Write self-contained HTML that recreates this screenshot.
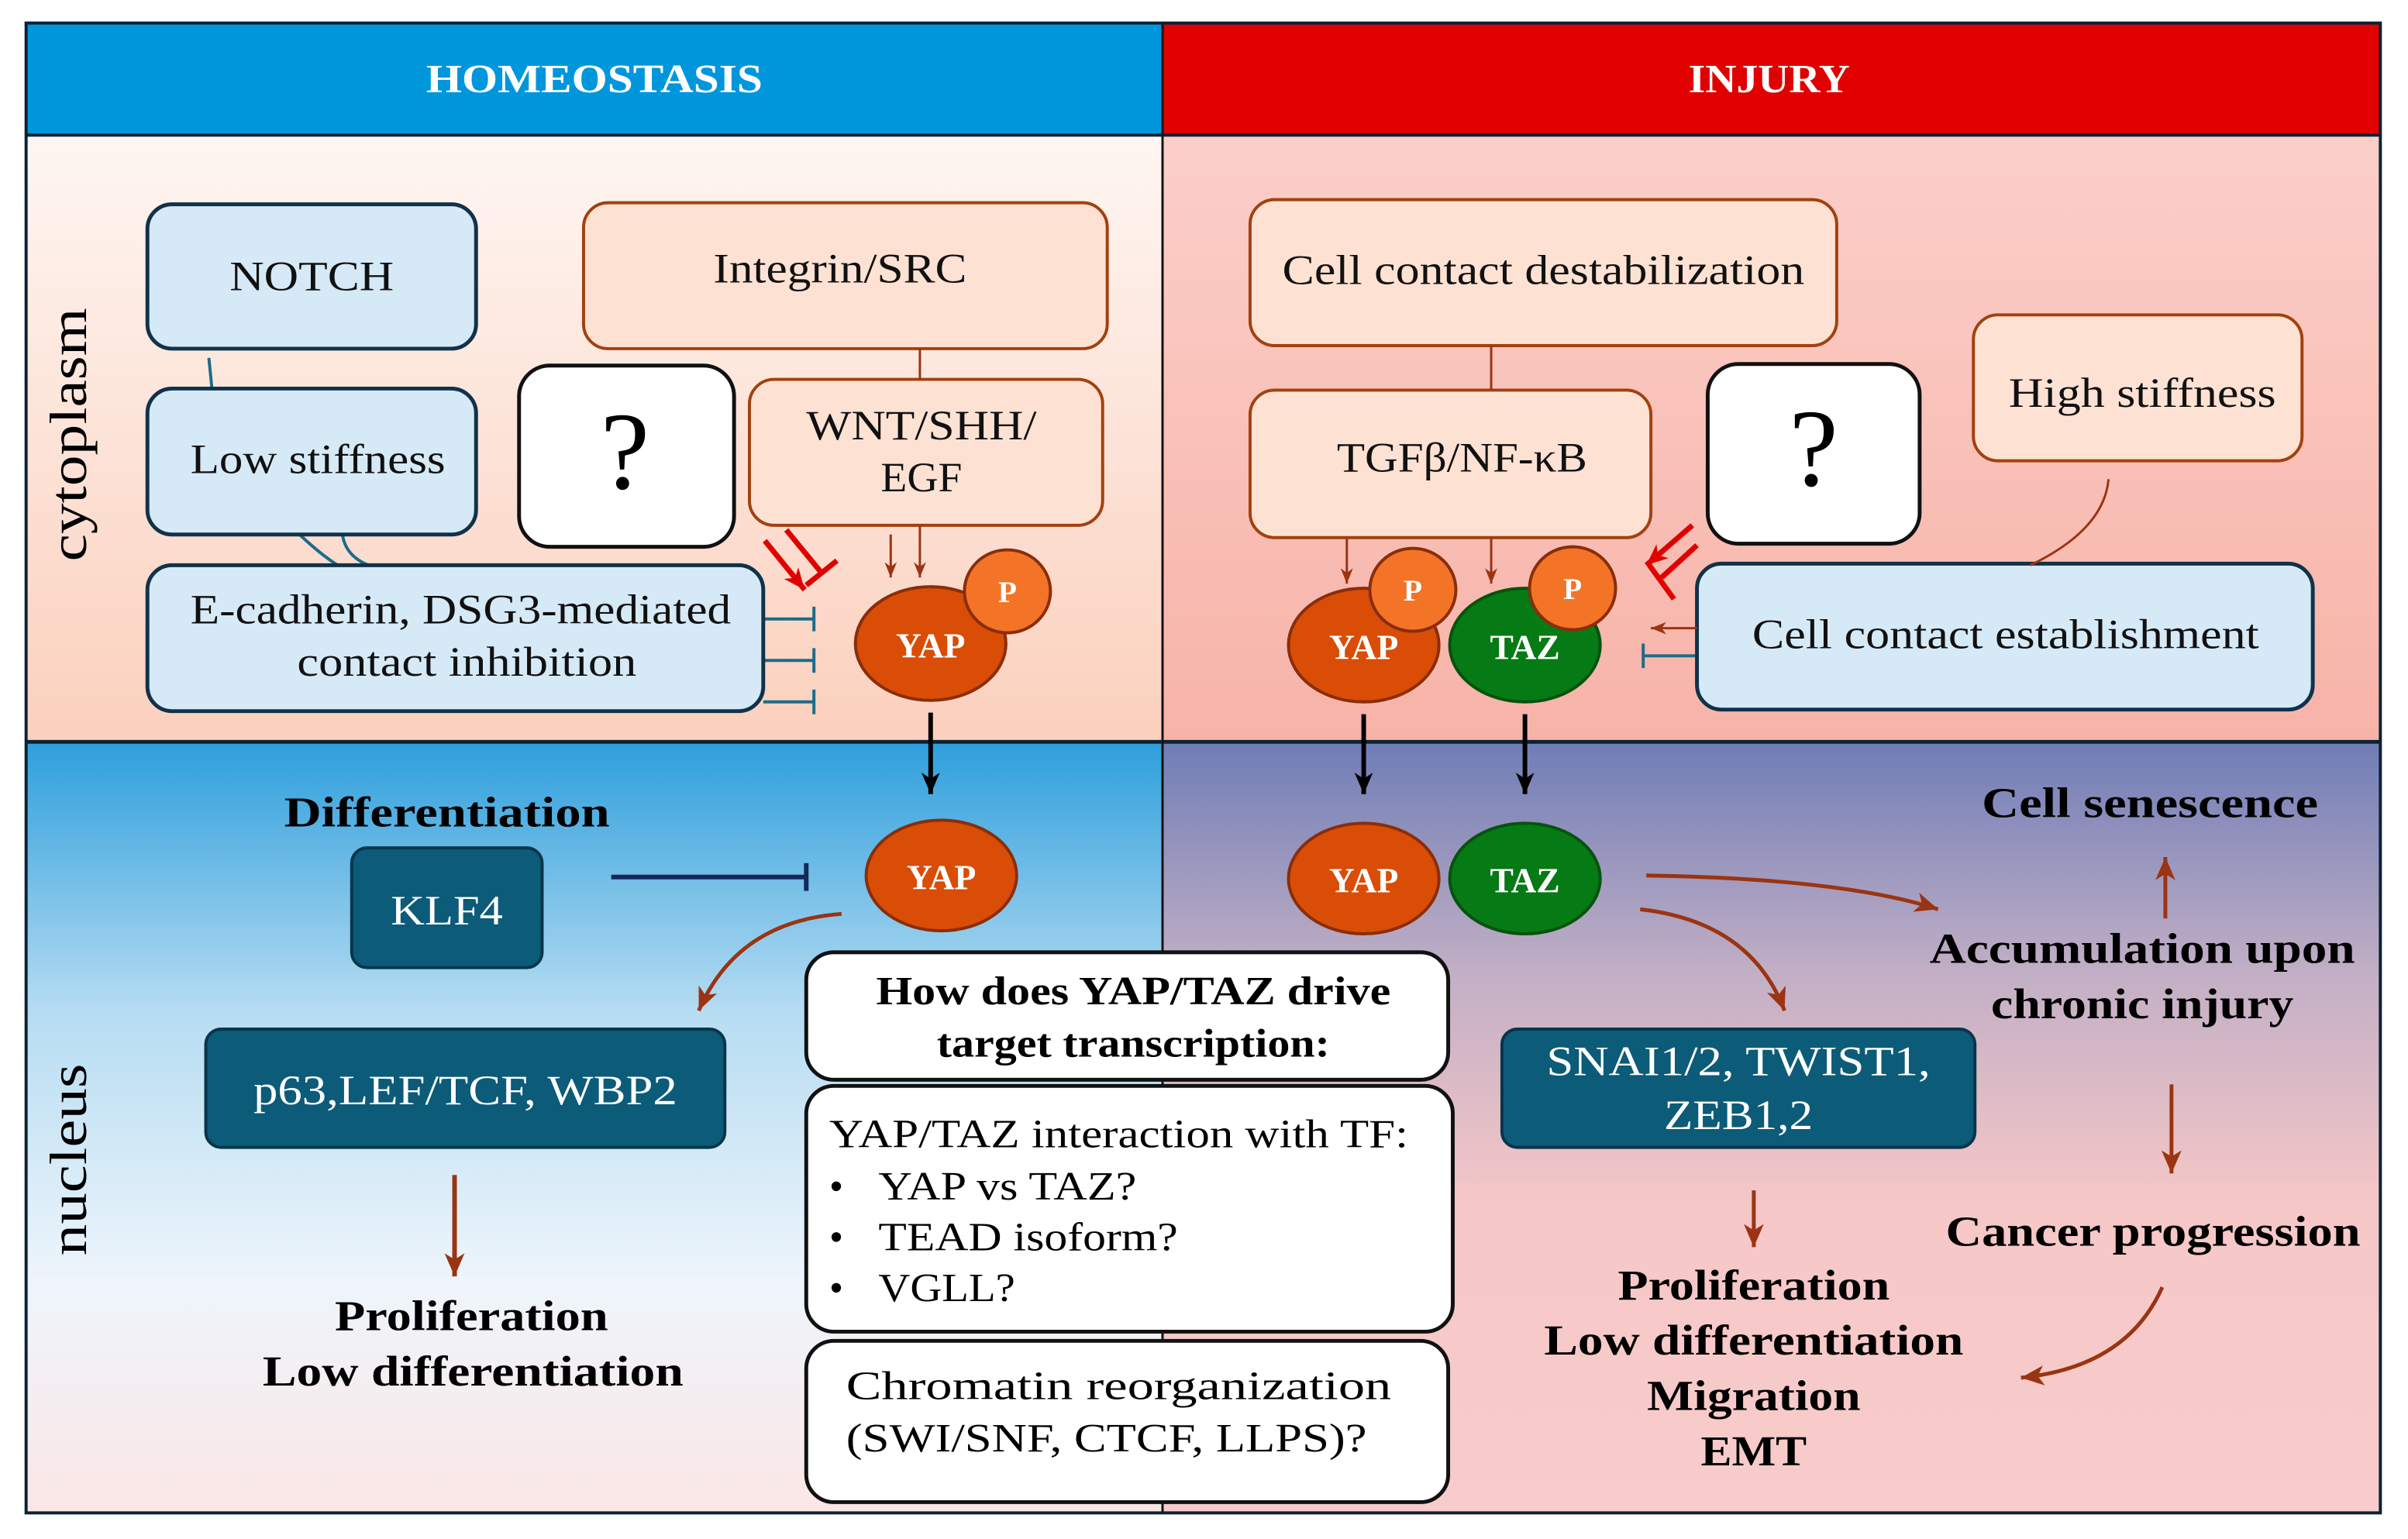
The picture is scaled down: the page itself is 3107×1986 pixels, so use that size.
<!DOCTYPE html>
<html><head><meta charset="utf-8"><style>html,body{margin:0;padding:0;background:#fff}svg{display:block}</style></head>
<body>
<svg width="3107" height="1986" viewBox="0 0 1568 1002" preserveAspectRatio="none" xmlns="http://www.w3.org/2000/svg" font-family="'Liberation Serif', serif">
<defs>
<linearGradient id="cl" x1="0" y1="0" x2="0" y2="1"><stop offset="0" stop-color="#fef6f2"/><stop offset="1" stop-color="#fbd0bd"/></linearGradient>
<linearGradient id="cr" x1="0" y1="0" x2="0" y2="1"><stop offset="0" stop-color="#fbcfc9"/><stop offset="1" stop-color="#f7b3a8"/></linearGradient>
<linearGradient id="nl" x1="0" y1="0" x2="0" y2="1"><stop offset="0" stop-color="#2e9fdc"/><stop offset="0.35" stop-color="#b6dcf2"/><stop offset="0.7" stop-color="#eef5fb"/><stop offset="1" stop-color="#fbe6e6"/></linearGradient>
<linearGradient id="nr" x1="0" y1="0" x2="0" y2="1"><stop offset="0" stop-color="#6f7db6"/><stop offset="0.3" stop-color="#c2afc5"/><stop offset="0.6" stop-color="#f6c7c7"/><stop offset="1" stop-color="#f8cccc"/></linearGradient>
<marker id="ab" markerWidth="10" markerHeight="8" refX="10" refY="4" orient="auto" markerUnits="userSpaceOnUse" viewBox="0 0 10 8"><path d="M0,0 L10,4 L0,8 L3,4z" fill="#9a3412"/></marker>
<marker id="ak" markerWidth="14" markerHeight="12" refX="14" refY="6" orient="auto" markerUnits="userSpaceOnUse" viewBox="0 0 14 12"><path d="M0,0 L14,6 L0,12 L4,6z" fill="#000"/></marker>
<marker id="ab2" markerWidth="15" markerHeight="13" refX="15" refY="6.5" orient="auto" markerUnits="userSpaceOnUse" viewBox="0 0 15 13"><path d="M0,0 L15,6.5 L0,13 L4,6.5z" fill="#9a3412"/></marker>
<marker id="ar" markerWidth="14" markerHeight="12" refX="14" refY="6" orient="auto" markerUnits="userSpaceOnUse" viewBox="0 0 14 12"><path d="M0,0 L14,6 L0,12 L4,6z" fill="#e00000"/></marker>
</defs>
<rect x="17" y="88" width="740" height="395" fill="url(#cl)"/>
<rect x="757" y="88" width="793" height="395" fill="url(#cr)"/>
<rect x="17" y="483" width="740" height="502" fill="url(#nl)"/>
<rect x="757" y="483" width="793" height="502" fill="url(#nr)"/>
<rect x="17" y="15" width="740" height="73" fill="#0096dc"/>
<rect x="757" y="15" width="793" height="73" fill="#e00000"/>
<g lengthAdjust="spacingAndGlyphs">
<text x="387" y="60" text-anchor="middle" font-size="26" font-weight="bold" fill="#fff" textLength="219" lengthAdjust="spacingAndGlyphs">HOMEOSTASIS</text>
<text x="1152" y="60" text-anchor="middle" font-size="26" font-weight="bold" fill="#fff" textLength="105" lengthAdjust="spacingAndGlyphs">INJURY</text>
</g>
<line x1="17" y1="88" x2="1550" y2="88" stroke="#0b2233" stroke-width="2"/>
<line x1="17" y1="483" x2="1550" y2="483" stroke="#0b2233" stroke-width="2.5"/>
<line x1="757" y1="15" x2="757" y2="985" stroke="#111" stroke-width="1.5"/>
<rect x="17" y="15" width="1533" height="970" fill="none" stroke="#0b2233" stroke-width="2"/>
<text transform="translate(56,283) rotate(-90)" text-anchor="middle" font-size="34" textLength="165" lengthAdjust="spacingAndGlyphs">cytoplasm</text>
<text transform="translate(56,755) rotate(-90)" text-anchor="middle" font-size="34" textLength="125" lengthAdjust="spacingAndGlyphs">nucleus</text>

<g stroke="#1b6c8a" stroke-width="2" fill="none">
<path d="M136,233 L138,253"/><path d="M195,348 Q210,362 220,368"/><path d="M223,348 Q225,362 240,368"/>
<path d="M497,403 L530,403 M530,395 V411"/><path d="M497,430 L530,430 M530,422 V438"/><path d="M497,457 L530,457 M530,449 V465"/>
<path d="M1105,427 L1070,427 M1070,419 V435"/>
</g>
<g stroke="#10324a" stroke-width="2.5" fill="#d6e9f7">
<rect x="96" y="133" width="214" height="94" rx="16"/>
<rect x="96" y="253" width="214" height="95" rx="16"/>
<rect x="96" y="368" width="401" height="95" rx="16"/>
<rect x="1105" y="367" width="401" height="95" rx="16"/>
</g>
<g stroke="#a2410f" stroke-width="2" fill="#fde2d4">
<rect x="380" y="132" width="341" height="95" rx="16"/>
<rect x="488" y="247" width="230" height="95" rx="16"/>
<rect x="814" y="130" width="382" height="95" rx="16"/>
<rect x="814" y="254" width="261" height="96" rx="16"/>
<rect x="1285" y="205" width="214" height="95" rx="16"/>
</g>
<g stroke="#111" stroke-width="2.5" fill="#fff">
<rect x="338" y="238" width="140" height="118" rx="20"/>
<rect x="1112" y="237" width="138" height="117" rx="20"/>
<rect x="525" y="620" width="418" height="83" rx="18"/>
<rect x="525" y="707" width="421" height="160" rx="18"/>
<rect x="525" y="873" width="418" height="105" rx="18"/>
</g>
<g font-size="27" text-anchor="middle" fill="#111">
<text x="203" y="189" textLength="107" lengthAdjust="spacingAndGlyphs">NOTCH</text>
<text x="207" y="308" textLength="166" lengthAdjust="spacingAndGlyphs">Low stiffness</text>
<text x="300" y="406" textLength="352" lengthAdjust="spacingAndGlyphs">E-cadherin, DSG3-mediated</text>
<text x="304" y="440" textLength="221" lengthAdjust="spacingAndGlyphs">contact inhibition</text>
<text x="547" y="184" textLength="165" lengthAdjust="spacingAndGlyphs">Integrin/SRC</text>
<text x="600" y="286" textLength="150" lengthAdjust="spacingAndGlyphs">WNT/SHH/</text>
<text x="600" y="320" textLength="53" lengthAdjust="spacingAndGlyphs">EGF</text>
<text x="1005" y="185" textLength="340" lengthAdjust="spacingAndGlyphs">Cell contact destabilization</text>
<text x="952" y="307" textLength="163" lengthAdjust="spacingAndGlyphs">TGFβ/NF-κB</text>
<text x="1395" y="265" textLength="174" lengthAdjust="spacingAndGlyphs">High stiffness</text>
<text x="1306" y="422" textLength="330" lengthAdjust="spacingAndGlyphs">Cell contact establishment</text>
</g>
<text x="407" y="318" text-anchor="middle" font-size="72">?</text>
<text x="1181" y="316" text-anchor="middle" font-size="72">?</text>
<g stroke="#9a3412" stroke-width="1.5" fill="none">
<line x1="599" y1="227" x2="599" y2="247"/>
<line x1="580" y1="348" x2="580" y2="376" marker-end="url(#ab)"/>
<line x1="599" y1="342" x2="599" y2="376" marker-end="url(#ab)"/>
<line x1="971" y1="225" x2="971" y2="254"/>
<line x1="877" y1="350" x2="877" y2="380" marker-end="url(#ab)"/>
<line x1="971" y1="350" x2="971" y2="380" marker-end="url(#ab)"/>
<path d="M1373,312 Q1370,345 1322,368"/>
<line x1="1105" y1="409" x2="1075" y2="409" marker-end="url(#ab)"/>
</g>
<g stroke="#e00000" stroke-width="3.5" fill="none">
<line x1="498" y1="352" x2="524" y2="384" marker-end="url(#ar)"/>
<path d="M512,345 L535,373 M525,381 L545,365"/>
<line x1="1102" y1="342" x2="1072" y2="368" marker-end="url(#ar)"/>
<path d="M1105,355 L1082,376 M1074,368 L1090,390"/>
</g>
<ellipse cx="606" cy="419" rx="49" ry="37" fill="#d94d06" stroke="#8a2d0a" stroke-width="2"/>
<ellipse cx="656" cy="385" rx="28" ry="27" fill="#f47427" stroke="#8a2d0a" stroke-width="2"/>
<ellipse cx="888" cy="420" rx="49" ry="37" fill="#d94d06" stroke="#8a2d0a" stroke-width="2"/>
<ellipse cx="920" cy="384" rx="28" ry="27" fill="#f47427" stroke="#8a2d0a" stroke-width="2"/>
<ellipse cx="993" cy="420" rx="49" ry="37" fill="#067a14" stroke="#06530d" stroke-width="2"/>
<ellipse cx="1024" cy="383" rx="28" ry="27" fill="#f47427" stroke="#8a2d0a" stroke-width="2"/>
<g fill="#fff" font-weight="bold" text-anchor="middle" font-size="23">
<text x="606" y="428">YAP</text><text x="656" y="392" font-size="20">P</text>
<text x="888" y="429">YAP</text><text x="920" y="391" font-size="20">P</text>
<text x="993" y="429">TAZ</text><text x="1024" y="390" font-size="20">P</text>
</g>
<g stroke="#000" stroke-width="3">
<line x1="606" y1="464" x2="606" y2="517" marker-end="url(#ak)"/>
<line x1="888" y1="465" x2="888" y2="517" marker-end="url(#ak)"/>
<line x1="993" y1="465" x2="993" y2="517" marker-end="url(#ak)"/>
</g>
<text x="291" y="538" text-anchor="middle" font-size="28" font-weight="bold" textLength="212" lengthAdjust="spacingAndGlyphs">Differentiation</text>
<rect x="229" y="552" width="124" height="78" rx="10" fill="#0c5b78" stroke="#07364a" stroke-width="2"/>
<text x="291" y="602" text-anchor="middle" font-size="27" fill="#fff" textLength="73" lengthAdjust="spacingAndGlyphs">KLF4</text>
<path d="M398,571 L525,571 M525,562 V580" stroke="#14285a" stroke-width="3" fill="none"/>
<ellipse cx="613" cy="570" rx="49" ry="36" fill="#d94d06" stroke="#8a2d0a" stroke-width="2"/>
<text x="613" y="579" fill="#fff" font-weight="bold" text-anchor="middle" font-size="23">YAP</text>
<path d="M548,595 Q480,600 455,658" stroke="#9a3412" stroke-width="2.5" fill="none" marker-end="url(#ab2)"/>
<rect x="134" y="670" width="338" height="77" rx="10" fill="#0c5b78" stroke="#07364a" stroke-width="2"/>
<text x="303" y="719" text-anchor="middle" font-size="27" fill="#fff" textLength="276" lengthAdjust="spacingAndGlyphs">p63,LEF/TCF, WBP2</text>
<line x1="296" y1="765" x2="296" y2="831" stroke="#9a3412" stroke-width="3" marker-end="url(#ab2)"/>
<g font-size="28" font-weight="bold" text-anchor="middle">
<text x="307" y="866" textLength="178" lengthAdjust="spacingAndGlyphs">Proliferation</text>
<text x="308" y="902" textLength="274" lengthAdjust="spacingAndGlyphs">Low differentiation</text>
<text x="738" y="654" font-size="26" textLength="335" lengthAdjust="spacingAndGlyphs">How does YAP/TAZ drive</text>
<text x="738" y="688" font-size="26" textLength="256" lengthAdjust="spacingAndGlyphs">target transcription:</text>
</g>
<g font-size="26">
<text x="540" y="747" textLength="377" lengthAdjust="spacingAndGlyphs">YAP/TAZ interaction with TF:</text>
<text x="540" y="781">•</text><text x="572" y="781" textLength="168" lengthAdjust="spacingAndGlyphs">YAP vs TAZ?</text>
<text x="540" y="814">•</text><text x="572" y="814" textLength="195" lengthAdjust="spacingAndGlyphs">TEAD isoform?</text>
<text x="540" y="847">•</text><text x="572" y="847" textLength="89" lengthAdjust="spacingAndGlyphs">VGLL?</text>
<text x="551" y="911" textLength="355" lengthAdjust="spacingAndGlyphs">Chromatin reorganization</text>
<text x="551" y="945" textLength="339" lengthAdjust="spacingAndGlyphs">(SWI/SNF, CTCF, LLPS)?</text>
</g>
<ellipse cx="888" cy="572" rx="49" ry="36" fill="#d94d06" stroke="#8a2d0a" stroke-width="2"/>
<ellipse cx="993" cy="572" rx="49" ry="36" fill="#067a14" stroke="#06530d" stroke-width="2"/>
<text x="888" y="581" fill="#fff" font-weight="bold" text-anchor="middle" font-size="23">YAP</text>
<text x="993" y="581" fill="#fff" font-weight="bold" text-anchor="middle" font-size="23">TAZ</text>
<g stroke="#9a3412" stroke-width="2.5" fill="none">
<path d="M1068,592 Q1140,600 1162,658" marker-end="url(#ab2)"/>
<path d="M1072,570 Q1200,572 1262,592" marker-end="url(#ab2)"/>
<line x1="1410" y1="598" x2="1410" y2="558" marker-end="url(#ab2)"/>
<line x1="1414" y1="706" x2="1414" y2="764" marker-end="url(#ab2)"/>
<line x1="1142" y1="775" x2="1142" y2="812" marker-end="url(#ab2)"/>
<path d="M1408,838 Q1385,890 1316,897" marker-end="url(#ab2)"/>
</g>
<rect x="978" y="670" width="308" height="77" rx="10" fill="#0c5b78" stroke="#07364a" stroke-width="2"/>
<text x="1132" y="700" text-anchor="middle" font-size="27" fill="#fff" textLength="250" lengthAdjust="spacingAndGlyphs">SNAI1/2, TWIST1,</text>
<text x="1132" y="735" text-anchor="middle" font-size="27" fill="#fff" textLength="97" lengthAdjust="spacingAndGlyphs">ZEB1,2</text>
<g font-size="28" font-weight="bold" text-anchor="middle">
<text x="1400" y="532" textLength="219" lengthAdjust="spacingAndGlyphs">Cell senescence</text>
<text x="1395" y="627" textLength="277" lengthAdjust="spacingAndGlyphs">Accumulation upon</text>
<text x="1395" y="663" textLength="197" lengthAdjust="spacingAndGlyphs">chronic injury</text>
<text x="1402" y="811" textLength="270" lengthAdjust="spacingAndGlyphs">Cancer progression</text>
<text x="1142" y="846" textLength="177" lengthAdjust="spacingAndGlyphs">Proliferation</text>
<text x="1142" y="882" textLength="273" lengthAdjust="spacingAndGlyphs">Low differentiation</text>
<text x="1142" y="918" textLength="139" lengthAdjust="spacingAndGlyphs">Migration</text>
<text x="1142" y="954" textLength="69" lengthAdjust="spacingAndGlyphs">EMT</text>
</g>
</svg>
</body></html>
